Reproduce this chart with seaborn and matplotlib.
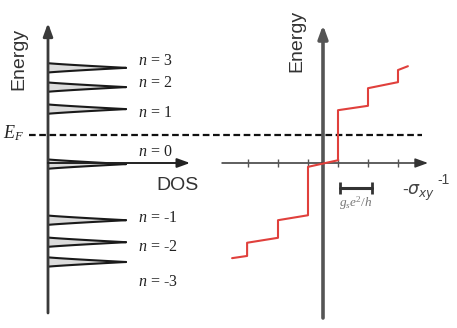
import numpy as np
import pandas as pd
import matplotlib
matplotlib.use("Agg")
import matplotlib.pyplot as plt
import seaborn as sns

# ---------------- data ----------------
level_n = [-3, -2, -1, 0, 1, 2, 3]
level_energy = [-1.80, -1.44, -1.04, -0.02, 0.98, 1.38, 1.73]   # Landau level energies
level_label_energy = [-2.16, -1.53, -1.00, 0.20, 0.91, 1.45, 1.85]
peak_height = 1.0          # DOS peak height
peak_halfwidth = 0.085     # energy half-width of each peak
fermi_energy = 0.51

# Hall step curve: -sigma_xy (units g_s e^2/h) vs energy
sigma_pts = [-3.03, -2.53, -2.53, -1.50, -1.50, -0.50, -0.50, 0.50, 0.50,
             1.50, 1.50, 2.50, 2.50, 2.83]
energy_pts = [-1.73, -1.69, -1.45, -1.36, -1.04, -0.95, -0.07, 0.05, 0.96,
              1.04, 1.36, 1.47, 1.69, 1.76]
sigma_ticks = [-2.5, -1.5, -0.5, 0.5, 1.5, 2.5]
scalebar = [0.57, 1.62]
scalebar_energy = -0.45

# ---------------- figure ----------------
sns.set_theme(style="white")
plt.rcParams["mathtext.fontset"] = "custom"
plt.rcParams["mathtext.rm"] = "Liberation Serif"
plt.rcParams["mathtext.it"] = "Liberation Serif:italic"
plt.rcParams["font.family"] = ["Liberation Sans", "DejaVu Sans"]

W, H = 457, 328
fig = plt.figure(figsize=(W / 100, H / 100), dpi=100)
fig.patch.set_facecolor("white")

y0_px, e_px = 163, 55.0          # energy 0 at pixel row 163, 55 px per unit
ylim = (-(H - y0_px) / e_px, y0_px / e_px)

axL = fig.add_axes([0, 0, 1, 1])
axL.set_xlim(-48 / 78.0, (W - 48) / 78.0)
axL.set_ylim(*ylim)
axL.axis("off")

axR = fig.add_axes([0, 0, 1, 1])
axR.set_xlim(-323 / 30.0, (W - 323) / 30.0)
axR.set_ylim(*ylim)
axR.axis("off")
axR.patch.set_alpha(0)

axis_col = "#3a3a3a"

# ----- left panel: DOS -----
for En in level_energy:
    e = np.linspace(En - peak_halfwidth, En + peak_halfwidth, 81)
    t = np.abs(e - En) / peak_halfwidth
    dos = peak_height * (1 - t) ** 1.15
    axL.fill_betweenx(e, 0, dos, color="#dcdcdc", lw=0, zorder=2)
    axL.plot(dos[:41], e[:41], color="#1a1a1a", lw=1.5, zorder=3)
    axL.plot(dos[40:], e[40:], color="#1a1a1a", lw=1.5, zorder=3)

for n, ly in zip(level_n, level_label_energy):
    axL.text(1.15, ly, f"$n$ = {n}", fontsize=11.5, family="Liberation Serif",
             color="#222222", ha="left", va="center")

arrow_kw = dict(arrowstyle="-|>,head_length=0.55,head_width=0.2",
                mutation_scale=14, shrinkA=0, shrinkB=0)
axL.annotate("", xy=(0, (163 - 23) / e_px), xytext=(0, -(313 - 163) / e_px),
             arrowprops=dict(color=axis_col, lw=2.0, **arrow_kw), zorder=4)
axL.annotate("", xy=((190 - 48) / 78.0, 0), xytext=(0, 0),
             arrowprops=dict(color="#222222", lw=1.4, **arrow_kw), zorder=4)
axL.text((178 - 48) / 78.0, (163 - 185) / e_px, "DOS", fontsize=14,
         color="#333333", ha="center", va="center")
axL.text(-(48 - 19) / 78.0, (163 - 59) / e_px, "Energy", fontsize=14,
         color="#333333", ha="center", va="center", rotation=90)
axL.text(-(48 - 14) / 78.0, (163 - 133) / e_px, "$E_F$", fontsize=13,
         color="#222222", ha="center", va="center")

# ----- Fermi level dashed line -----
axR.plot([(29 - 323) / 30.0, (422 - 323) / 30.0], [fermi_energy, fermi_energy],
         color="#111111", lw=1.6, linestyle=(0, (3.0, 1.6)), zorder=1)

# ----- right panel: Hall conductivity -----
axR.annotate("", xy=(0, (163 - 25) / e_px), xytext=(0, -(318 - 163) / e_px),
             arrowprops=dict(color="#555555", lw=2.6, **arrow_kw), zorder=2)
axR.annotate("", xy=((428 - 323) / 30.0, 0), xytext=((222 - 323) / 30.0, 0),
             arrowprops=dict(color="#333333", lw=1.1, **arrow_kw), zorder=2)
axR.plot(sigma_ticks, [0] * len(sigma_ticks), linestyle="none", marker="|",
         markersize=6, markeredgewidth=1.0, color="#555555", zorder=2)

df = pd.DataFrame({"sigma": sigma_pts, "energy": energy_pts})
sns.lineplot(data=df, x="sigma", y="energy", sort=False, estimator=None,
             color="#e0403c", lw=1.5, ax=axR, zorder=3)
axR.set_xlim(-323 / 30.0, (W - 323) / 30.0)
axR.set_ylim(*ylim)
axR.axis("off")

axR.plot(scalebar, [scalebar_energy] * 2, color="#333333", lw=2.2,
         marker="|", markersize=8, markeredgewidth=2.0, zorder=3)
axR.text(np.mean(scalebar), (163 - 203) / e_px, r"$g_se^2/h$", fontsize=9.5,
         color="#777777", ha="center", va="center")
axR.text((402 - 323) / 30.0, (163 - 193) / e_px, r"-$\sigma_{xy}$",
         fontsize=12.5, color="#444444", ha="left", va="center",
         math_fontfamily="dejavusans")
axR.text((437 - 323) / 30.0, (163 - 180) / e_px, "-1",
         fontsize=10, color="#444444", ha="left", va="center")
axR.text(-(323 - 297) / 30.0, (163 - 41) / e_px, "Energy", fontsize=14,
         color="#333333", ha="center", va="center", rotation=90)

fig.savefig("out.png", dpi=100, facecolor="white")
